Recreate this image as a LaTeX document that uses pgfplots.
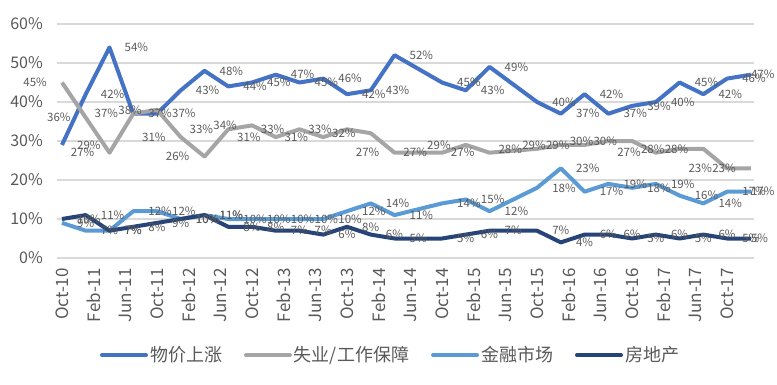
\documentclass[border=0pt]{standalone}
\usepackage{pgfplots}
\pgfplotsset{compat=1.18}
\usepackage{pgfplotstable}
\usepackage{fontspec}
\setmainfont{Noto Sans CJK SC}
\definecolor{cA}{HTML}{4472C4}
\definecolor{cB}{HTML}{A5A5A5}
\definecolor{cC}{HTML}{5B9BD5}
\definecolor{cD}{HTML}{264478}
\definecolor{txt}{HTML}{595959}
\definecolor{gridc}{HTML}{D9D9D9}

\pgfplotstableread{
x  a  b  c  d
0  29 45 9  10
3  42 36 7  11
6  54 27 7  7
9  37 37 12 8
12 37 38 12 9
15 43 31 10 10
18 48 26 11 11
21 44 33 10 8
24 45 34 10 8
27 47 31 10 7
30 45 33 10 7
33 46 31 10 6
36 42 33 12 8
39 43 32 14 6
42 52 27 11 5
48 45 27 14 5
51 43 29 15 6
54 49 27 12 7
60 40 28 18 7
63 37 29 23 4
66 42 29 17 6
69 37 30 19 6
72 39 30 18 5
75 40 27 19 6
78 45 28 16 5
81 42 28 14 6
84 46 23 17 5
87 47 23 17 5
}\data

\begin{document}
\begin{tikzpicture}
\useasboundingbox (0,0) rectangle (777bp,385bp);
\begin{axis}[
  at={(57bp,127bp)}, anchor=south west,
  width=697bp, height=234bp, scale only axis,
  xmin=-0.63, xmax=87.4, ymin=0, ymax=60,
  xtick={0,4,...,84},
  xticklabels={Oct-10,Feb-11,Jun-11,Oct-11,Feb-12,Jun-12,Oct-12,Feb-13,Jun-13,Oct-13,Feb-14,Jun-14,Oct-14,Feb-15,Jun-15,Oct-15,Feb-16,Jun-16,Oct-16,Feb-17,Jun-17,Oct-17},
  ytick={0,10,...,60},
  yticklabel={\pgfmathprintnumber{\tick}\%},
  /pgf/number format/assume math mode=true,
  axis line style={draw=none},
  ymajorgrids, grid style={gridc, line width=1.2bp},
  major tick length=0pt, tick style={draw=none},
  ticklabel style={text=txt},
  xticklabel style={rotate=90, anchor=east, inner sep=0pt, font=\fontsize{17bp}{20bp}\selectfont},
  xticklabel shift=10bp,
  yticklabel style={anchor=east, inner sep=0pt, font=\fontsize{16bp}{19bp}\selectfont},
  yticklabel shift=14bp,
  clip=false,
  legend style={at={(0.4785,-0.4145)}, anchor=center, legend columns=-1,
    draw=none, fill=none, text=txt, font=\fontsize{18bp}{20bp}\selectfont,
    /tikz/every even column/.append style={column sep=20bp}},
  legend image code/.code={\draw[#1, line width=4bp, line cap=round] (0bp,0bp) -- (44bp,0bp);},
  labbase/.style={draw=none, forget plot, point meta=y,
    nodes near coords={\pgfmathprintnumber{\pgfplotspointmeta}\%},
    every node near coord/.append style={font=\fontsize{11.5bp}{13bp}\selectfont, text=txt, inner sep=0pt}},
  lab/.style={labbase, restrict x to domain=-1:86,
    every node near coord/.append style={anchor=west, xshift=15bp}},
  labl/.style={labbase,
    every node near coord/.append style={anchor=east, xshift=-15bp}},
  labend/.style={labbase, restrict x to domain=86.5:88,
    every node near coord/.append style={anchor=west, xshift=0bp}},
]
\addplot[cA, line width=4bp, line join=round] table[x=x,y=a]{\data};
\addlegendentry{物价上涨}
\addplot[cB, line width=4bp, line join=round] table[x=x,y=b]{\data};
\addlegendentry{失业/工作保障}
\addplot[cC, line width=4bp, line join=round] table[x=x,y=c]{\data};
\addlegendentry{金融市场}
\addplot[cD, line width=4bp, line join=round] table[x=x,y=d]{\data};
\addlegendentry{房地产}
\addplot[lab] table[x=x,y=a]{\data};
\addplot[labend] table[x=x,y=a]{\data};
\addplot[labl] table[x=x,y=b]{\data};
\addplot[lab] table[x=x,y=c]{\data};
\addplot[labend] table[x=x,y=c]{\data};
\addplot[lab] table[x=x,y=d]{\data};
\addplot[labend] table[x=x,y=d]{\data};
\end{axis}
\end{tikzpicture}
\end{document}
